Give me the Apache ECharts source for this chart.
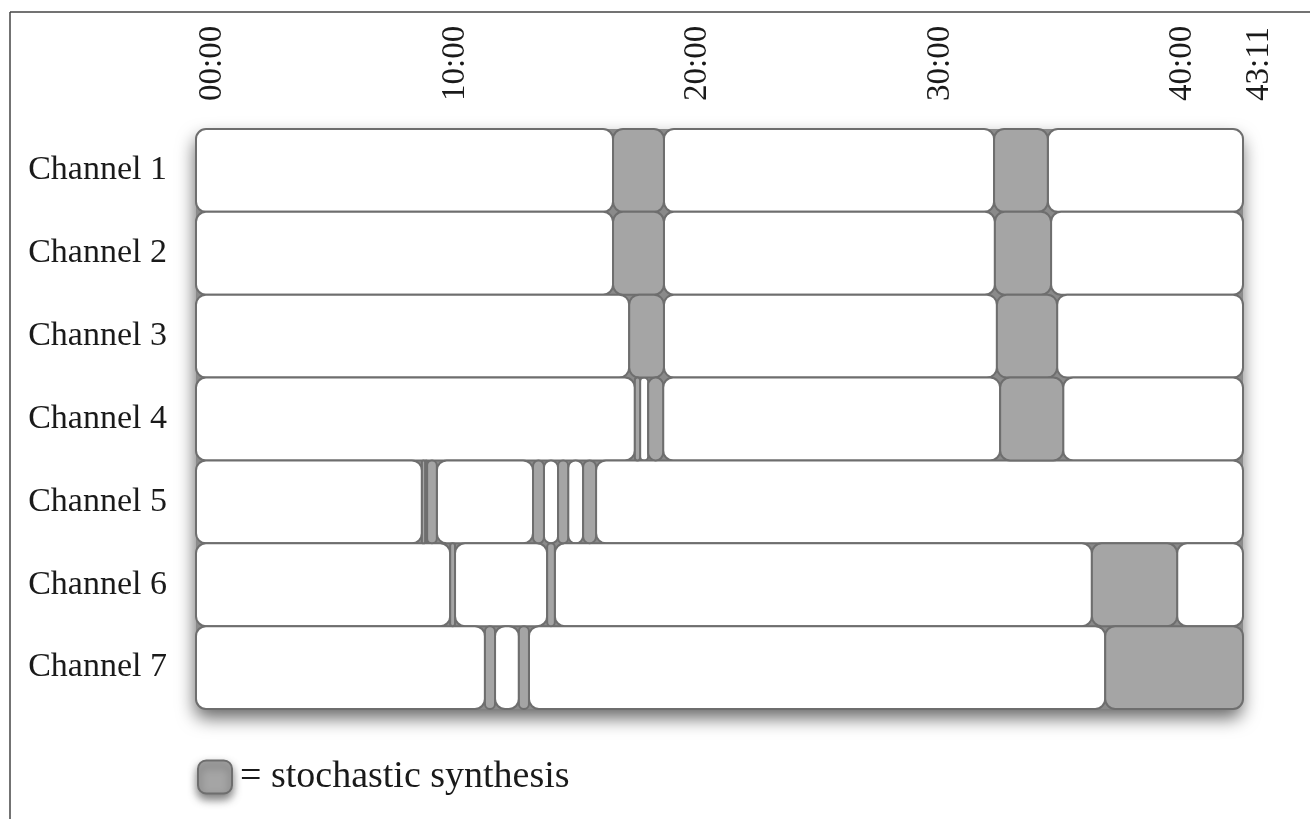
<!DOCTYPE html>
<html>
<head>
<meta charset="utf-8">
<style>
  html, body { margin: 0; padding: 0; background: #ffffff; }
  #chart { width: 1310px; height: 819px; }
</style>
<script src="https://cdn.jsdelivr.net/npm/echarts@6/dist/echarts.min.js"></script>
</head>
<body>
<div id="chart"></div>
<script>
// ---- data (seconds) ----
const channels = ['Channel 1', 'Channel 2', 'Channel 3', 'Channel 4', 'Channel 5', 'Channel 6', 'Channel 7'];
const totalSeconds = 2591; // 43:11
const tickStep = 600;      // 10:00

// segment boundaries per channel and whether each segment is stochastic (1) or not (0)
const ch1Bounds = [0, 1032, 1158, 1975, 2108, 2591];
const ch1Stoch  = [0, 1, 0, 1, 0];
const ch2Bounds = [0, 1032, 1158, 1977, 2116, 2591];
const ch2Stoch  = [0, 1, 0, 1, 0];
const ch3Bounds = [0, 1072, 1158, 1982, 2131, 2591];
const ch3Stoch  = [0, 1, 0, 1, 0];
const ch4Bounds = [0, 1086, 1099, 1119, 1156, 1990, 2146, 2591];
const ch4Stoch  = [0, 1, 0, 1, 0, 1, 0];
const ch5Bounds = [0, 559, 567, 572, 596, 834, 861, 896, 921, 958, 990, 2591];
const ch5Stoch  = [0, 1, 0, 1, 0, 1, 0, 1, 0, 1, 0];
const ch6Bounds = [0, 629, 641, 869, 888, 2217, 2428, 2591];
const ch6Stoch  = [0, 1, 0, 1, 0, 1, 0];
const ch7Bounds = [0, 715, 740, 799, 824, 2250, 2591];
const ch7Stoch  = [0, 1, 0, 1, 0, 1];

const allBounds = [ch1Bounds, ch2Bounds, ch3Bounds, ch4Bounds, ch5Bounds, ch6Bounds, ch7Bounds];
const allStoch  = [ch1Stoch, ch2Stoch, ch3Stoch, ch4Stoch, ch5Stoch, ch6Stoch, ch7Stoch];

const plainData = [], stochData = [];
allBounds.forEach(function (b, row) {
  for (let i = 0; i < b.length - 1; i++) {
    (allStoch[row][i] ? stochData : plainData).push([row, b[i], b[i + 1]]);
  }
});

function fmt(v) {
  const m = Math.floor(v / 60), s = Math.round(v % 60);
  return String(m).padStart(2, '0') + ':' + String(s).padStart(2, '0');
}

const FONT = 'Liberation Serif';
const STROKE = '#6e6e6e';

function renderSeg(params, api) {
  const row = api.value(0);
  const p0 = api.coord([api.value(1), row]);
  const p1 = api.coord([api.value(2), row]);
  const band = api.size([0, 1])[1];
  return {
    type: 'rect',
    shape: { x: p0[0], y: p0[1] - band / 2, width: p1[0] - p0[0], height: band, r: 10 },
    style: { fill: api.visual('color'), stroke: STROKE, lineWidth: 2 }
  };
}

function renderBack(params, api) {
  const pTop = api.coord([api.value(0), 0]);
  const pBot = api.coord([api.value(1), channels.length - 1]);
  const band = api.size([0, 1])[1];
  return {
    type: 'rect',
    shape: { x: pTop[0], y: pTop[1] - band / 2, width: pBot[0] - pTop[0], height: pBot[1] - pTop[1] + band, r: 10 },
    style: { fill: '#8a8a8a', shadowBlur: 18, shadowOffsetY: 9, shadowOffsetX: -1, shadowColor: 'rgba(0,0,0,0.6)' }
  };
}

const chart = echarts.init(document.getElementById('chart'), null, { renderer: 'canvas' });
chart.setOption({
  animation: false,
  backgroundColor: '#ffffff',
  grid: { left: 196, right: 67, top: 129, height: 580 },
  xAxis: {
    type: 'value',
    position: 'top',
    min: 0,
    max: totalSeconds,
    interval: tickStep,
    axisLine: { show: false },
    axisTick: { show: false },
    splitLine: { show: false },
    axisLabel: {
      rotate: -90,
      align: 'left',
      verticalAlign: 'top',
      margin: 28,
      fontFamily: FONT,
      fontSize: 33,
      color: '#1a1a1a',
      showMaxLabel: true,
      formatter: fmt
    }
  },
  yAxis: {
    type: 'category',
    data: channels,
    inverse: true,
    axisLine: { show: false },
    axisTick: { show: false },
    splitLine: { show: false },
    axisLabel: { margin: 29, fontFamily: FONT, fontSize: 34, color: '#1a1a1a' }
  },
  legend: {
    data: ['stochastic synthesis'],
    left: 197,
    top: 758,
    padding: 0,
    icon: 'roundRect',
    itemWidth: 34,
    itemHeight: 33,
    selectedMode: false,
    formatter: '= {name}',
    itemStyle: { borderColor: STROKE, borderWidth: 2, shadowBlur: 8, shadowOffsetY: 5, shadowColor: 'rgba(0,0,0,0.5)' },
    textStyle: { fontFamily: FONT, fontSize: 38, color: '#1a1a1a', padding: [0, 0, 0, 3] }
  },
  graphic: [
    { type: 'line', shape: { x1: 10, y1: 12, x2: 1310, y2: 12 }, style: { stroke: '#444', lineWidth: 1.5 }, silent: true },
    { type: 'line', shape: { x1: 10, y1: 12, x2: 10, y2: 819 }, style: { stroke: '#444', lineWidth: 1.5 }, silent: true }
  ],
  series: [
    {
      name: 'backdrop', type: 'custom', renderItem: renderBack, z: 1,
      encode: { x: [0, 1] }, data: [[0, totalSeconds]], silent: true
    },
    {
      name: 'plain', type: 'custom', renderItem: renderSeg, z: 2,
      itemStyle: { color: '#ffffff' },
      encode: { x: [1, 2], y: 0 }, data: plainData
    },
    {
      name: 'stochastic synthesis', type: 'custom', renderItem: renderSeg, z: 3,
      itemStyle: { color: '#a5a5a5' },
      encode: { x: [1, 2], y: 0 }, data: stochData
    }
  ]
});
</script>
</body>
</html>
